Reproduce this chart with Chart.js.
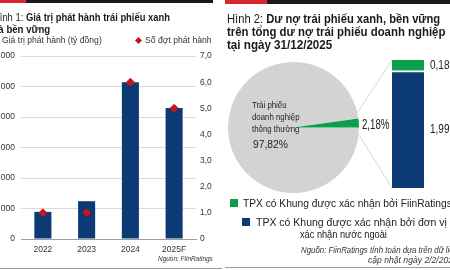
<!DOCTYPE html>
<html>
<head>
<meta charset="utf-8">
<script src="https://cdn.jsdelivr.net/npm/chart.js@4.4.1/dist/chart.umd.min.js"></script>
<style>
  body { margin: 0; width: 450px; height: 270px; overflow: hidden; background: #fff; position: relative;
    font-family: 'Liberation Sans', Arial, sans-serif; color: #1a1a1a; }
  .t { position: absolute; white-space: nowrap; line-height: 1; transform-origin: 0 0; z-index: 3; }
  canvas { position: absolute; }
  .blk { position: absolute; }
  b { font-weight: 700; }
</style>
</head>
<body>
<!-- top rules -->
<div class="blk" style="left:0;top:0;width:26px;height:3px;background:#d7262d"></div>
<div class="blk" style="left:26px;top:0;width:187px;height:3px;background:#1a1a1a"></div>
<div class="blk" style="left:225px;top:0;width:42px;height:4px;background:#d7262d"></div>
<div class="blk" style="left:267px;top:0;width:183px;height:4px;background:#1a1a1a"></div>

<!-- left panel text -->
<div class="t" data-w="177" style="left:-7px;top:13px;font-size:10.3px">Hình 1: <b>Giá trị phát hành trái phiếu xanh</b></div>
<div class="t" data-w="57" style="left:-7px;top:24.6px;font-size:10.3px"><b>và bền vững</b></div>
<div class="blk" style="left:-10px;top:37px;width:6px;height:6px;background:#0b3a75"></div>
<div class="t" id="lg1" data-w="100" style="left:2px;top:36.1px;font-size:8.5px;color:#333"></div>
<div class="blk" style="left:136px;top:38px;width:5px;height:5px;background:#c4161c;transform:rotate(45deg)"></div>
<div class="t" id="lg2" data-w="67" style="left:145px;top:36.1px;font-size:8.5px;color:#333"></div>
<div class="t" data-w="55" style="left:158px;top:254.6px;font-size:7.5px;font-style:italic;color:#333">Nguồn: FiinRatings</div>
<div class="blk" style="left:0;top:268px;width:222px;height:1px;background:#9a9a9a"></div>

<!-- right panel text -->
<div class="t" data-w="213" style="left:227px;top:12.7px;font-size:12.5px">Hình 2: <b>Dư nợ trái phiếu xanh, bền vững</b></div>
<div class="t" data-w="218" style="left:227px;top:26.1px;font-size:12.5px"><b>trên tổng dư nợ trái phiếu doanh nghiệp</b></div>
<div class="t" data-w="105" style="left:227px;top:39.4px;font-size:12.5px"><b>tại ngày 31/12/2025</b></div>
<div class="t" id="pie1" data-s="0.8" style="left:252px;top:100px;font-size:9.8px;color:#222"></div>
<div class="t" id="pie2" data-s="0.8" style="left:252px;top:112.4px;font-size:9.8px;color:#222"></div>
<div class="t" id="pie3" data-s="0.8" style="left:252px;top:124px;font-size:9.8px;color:#222"></div>
<div class="t" id="pieValue" data-w="35" style="left:253px;top:138.8px;font-size:11.2px;color:#222"></div>
<div class="t" id="greenShare" data-w="27.6" style="left:361.7px;top:116.5px;font-size:14px;color:#222"></div>
<div class="blk" style="left:230px;top:199px;width:8px;height:7.5px;background:#0aa04a"></div>
<div class="t" id="lgR1" data-w="209" style="left:243px;top:198px;font-size:11px;color:#222"></div>
<div class="blk" style="left:242px;top:218px;width:8px;height:8px;background:#0b3a75"></div>
<div class="t" id="lgR2" data-w="190.7" style="left:256px;top:217.4px;font-size:11px;color:#222"></div>
<div class="t" id="lgR3" data-w="87" style="left:300px;top:229px;font-size:11px;color:#222"></div>
<div class="t" data-w="157" style="left:301px;top:245.8px;font-size:8.5px;font-style:italic;color:#333">Nguồn: FiinRatings tính toán dựa trên dữ liệu</div>
<div class="t" data-w="90" style="left:367.7px;top:255.8px;font-size:8.5px;font-style:italic;color:#333">cập nhật ngày 2/2/2026</div>
<div class="blk" style="left:225px;top:267px;width:225px;height:1px;background:#9a9a9a"></div>

<canvas id="issue" width="270" height="220" style="left:-40px;top:45px"></canvas>
<canvas id="share" width="131" height="131" style="left:228px;top:61.5px"></canvas>
<canvas id="split" width="80" height="128" style="left:392px;top:60px"></canvas>
<canvas id="links" width="450" height="270" style="left:0;top:0;pointer-events:none"></canvas>

<script>
"use strict";

const FONT = "'Liberation Sans', Arial, sans-serif";

// Figure 1: issuance value (bn VND) and number of issues
const YEARS = ["2022", "2023", "2024", "2025F"];
const ISSUE_VALUE = [1780, 2480, 10280, 8600];
const ISSUE_COUNT = [1, 1, 6, 5];
const VALUE_MAX = 12000, VALUE_STEP = 2000;
const COUNT_MAX = 7, COUNT_STEP = 1;
const ISSUE_SERIES = ["Giá trị phát hành (tỷ đồng)", "Số đợt phát hành"];

// Figure 2: share of green/sustainable bonds in corporate bonds outstanding
const SHARE_NAMES = ["Trái phiếu doanh nghiệp thông thường", "TPX"];
const SHARE_VALUES = [97.82, 2.18];
const SPLIT_NAMES = ["TPX có Khung được xác nhận bởi đơn vị xác nhận nước ngoài",
  "TPX có Khung được xác nhận bởi FiinRatings"];
const SPLIT_VALUES = [1.99, 0.18];

const COLORS = { bar: "#0b3a75", dot: "#c4161c", grey: "#d3d3d3", green: "#0aa04a", grid: "#dadada", axis: "#9d9d9d", text: "#333" };

Chart.defaults.font.family = FONT;
Chart.defaults.color = COLORS.text;
Chart.defaults.animation = false;
Chart.defaults.devicePixelRatio = 1;

function el(id) { return document.getElementById(id); }
function pct(v) { return v.toFixed(2).replace(".", ",") + "%"; }

el("lg1").textContent = ISSUE_SERIES[0];
el("lg2").textContent = ISSUE_SERIES[1];
el("pie1").textContent = "Trái phiếu";
el("pie2").textContent = "doanh nghiệp";
el("pie3").textContent = "thông thường";
el("pieValue").textContent = pct(SHARE_VALUES[0]);
el("greenShare").textContent = pct(SHARE_VALUES[1]);
el("lgR1").textContent = SPLIT_NAMES[1];
el("lgR2").textContent = "TPX có Khung được xác nhận bởi đơn vị";
el("lgR3").textContent = "xác nhận nước ngoài";

// squeeze each text line to the width it has in the narrow original face
document.querySelectorAll(".t").forEach((n) => {
  const s = n.dataset.w ? +n.dataset.w / n.offsetWidth : +(n.dataset.s || 1);
  n.style.transform = "scaleX(" + s + ")";
});

const issueChart = new Chart(el("issue"), {
  data: {
    labels: YEARS,
    datasets: [
      { type: "line", label: ISSUE_SERIES[1], data: ISSUE_COUNT, yAxisID: "y1", showLine: false,
        pointStyle: "rectRot", pointRadius: 4, backgroundColor: COLORS.dot, borderColor: COLORS.dot, order: 0 },
      { type: "bar", label: ISSUE_SERIES[0], data: ISSUE_VALUE, yAxisID: "y", backgroundColor: COLORS.bar,
        barPercentage: 0.39, categoryPercentage: 1, order: 1 },
    ],
  },
  options: {
    responsive: false,
    layout: { padding: { top: 8 } },
    plugins: { legend: { display: false }, tooltip: { enabled: false } },
    scales: {
      x: { grid: { display: false, drawTicks: false }, border: { color: COLORS.axis },
        ticks: { font: { size: 8.5 }, padding: 6 }, afterFit: (s) => { s.height = 26; } },
      y: { position: "left", min: 0, max: VALUE_MAX,
        ticks: { stepSize: VALUE_STEP, font: { size: 8.5 }, padding: 6,
          callback: (v) => v === 0 ? "0" : v.toLocaleString("de-DE") },
        grid: { color: COLORS.grid, drawTicks: false }, border: { display: false },
        afterFit: (s) => { s.width = 61; } },
      y1: { position: "right", min: 0, max: COUNT_MAX,
        ticks: { stepSize: COUNT_STEP, font: { size: 8.5 }, padding: 4,
          callback: (v) => v === 0 ? "0" : v.toFixed(1).replace(".", ",") },
        grid: { display: false, drawTicks: false }, border: { display: false },
        afterFit: (s) => { s.width = 34; } },
    },
  },
});

const shareChart = new Chart(el("share"), {
  type: "pie",
  data: { labels: SHARE_NAMES, datasets: [{ data: SHARE_VALUES, backgroundColor: [COLORS.grey, COLORS.green], borderWidth: 0 }] },
  options: {
    responsive: false, rotation: 90,
    plugins: { legend: { display: false }, tooltip: { enabled: false } },
  },
});

const splitValueLabels = {
  id: "splitValueLabels",
  afterDatasetsDraw(chart) {
    const ctx = chart.ctx;
    chart.data.datasets.forEach((ds, i) => {
      const bar = chart.getDatasetMeta(i).data[0];
      const x = bar.x + bar.width / 2 + 6, y = (bar.y + bar.base) / 2;
      ctx.save();
      ctx.translate(x, y);
      ctx.scale(0.8, 1);
      ctx.font = "12.5px " + FONT;
      ctx.fillStyle = "#222";
      ctx.textBaseline = "middle";
      ctx.fillText(pct(ds.data[0]), 0, 0);
      ctx.restore();
    });
  },
};

const splitChart = new Chart(el("split"), {
  type: "bar",
  data: {
    labels: [""],
    datasets: [
      { label: SPLIT_NAMES[0], data: [SPLIT_VALUES[0]], backgroundColor: COLORS.bar, borderColor: "#fff",
        borderWidth: { top: 2, left: 0, right: 0, bottom: 0 }, borderSkipped: false },
      { label: SPLIT_NAMES[1], data: [SPLIT_VALUES[1]], backgroundColor: COLORS.green, borderWidth: 0 },
    ],
  },
  options: {
    responsive: false,
    layout: { padding: { right: 48 } },
    plugins: { legend: { display: false }, tooltip: { enabled: false } },
    datasets: { bar: { barPercentage: 1, categoryPercentage: 1 } },
    scales: {
      x: { stacked: true, display: false },
      y: { stacked: true, display: false, min: 0, max: SPLIT_VALUES[0] + SPLIT_VALUES[1] },
    },
  },
  plugins: [splitValueLabels],
});

// connector lines from the green pie slice to the breakdown column
function drawLinks() {
  const ctx = el("links").getContext("2d");
  const pc = el("share"), bc = el("split");
  const arc = shareChart.getDatasetMeta(0).data[1];
  const blue = splitChart.getDatasetMeta(0).data[0];
  const green = splitChart.getDatasetMeta(1).data[0];
  const cx = pc.offsetLeft + arc.x, cy = pc.offsetTop + arc.y, r = arc.outerRadius;
  const left = bc.offsetLeft + blue.x - blue.width / 2;
  const up = -13 * Math.PI / 180, down = 6 * Math.PI / 180;
  ctx.strokeStyle = "#c9c9c9";
  ctx.lineWidth = 0.8;
  ctx.beginPath();
  ctx.moveTo(cx + r * Math.cos(up), cy + r * Math.sin(up));
  ctx.lineTo(left, bc.offsetTop + green.y);
  ctx.moveTo(cx + r * Math.cos(down), cy + r * Math.sin(down));
  ctx.lineTo(left, bc.offsetTop + blue.base);
  ctx.stroke();
}
drawLinks();
</script>
</body>
</html>
